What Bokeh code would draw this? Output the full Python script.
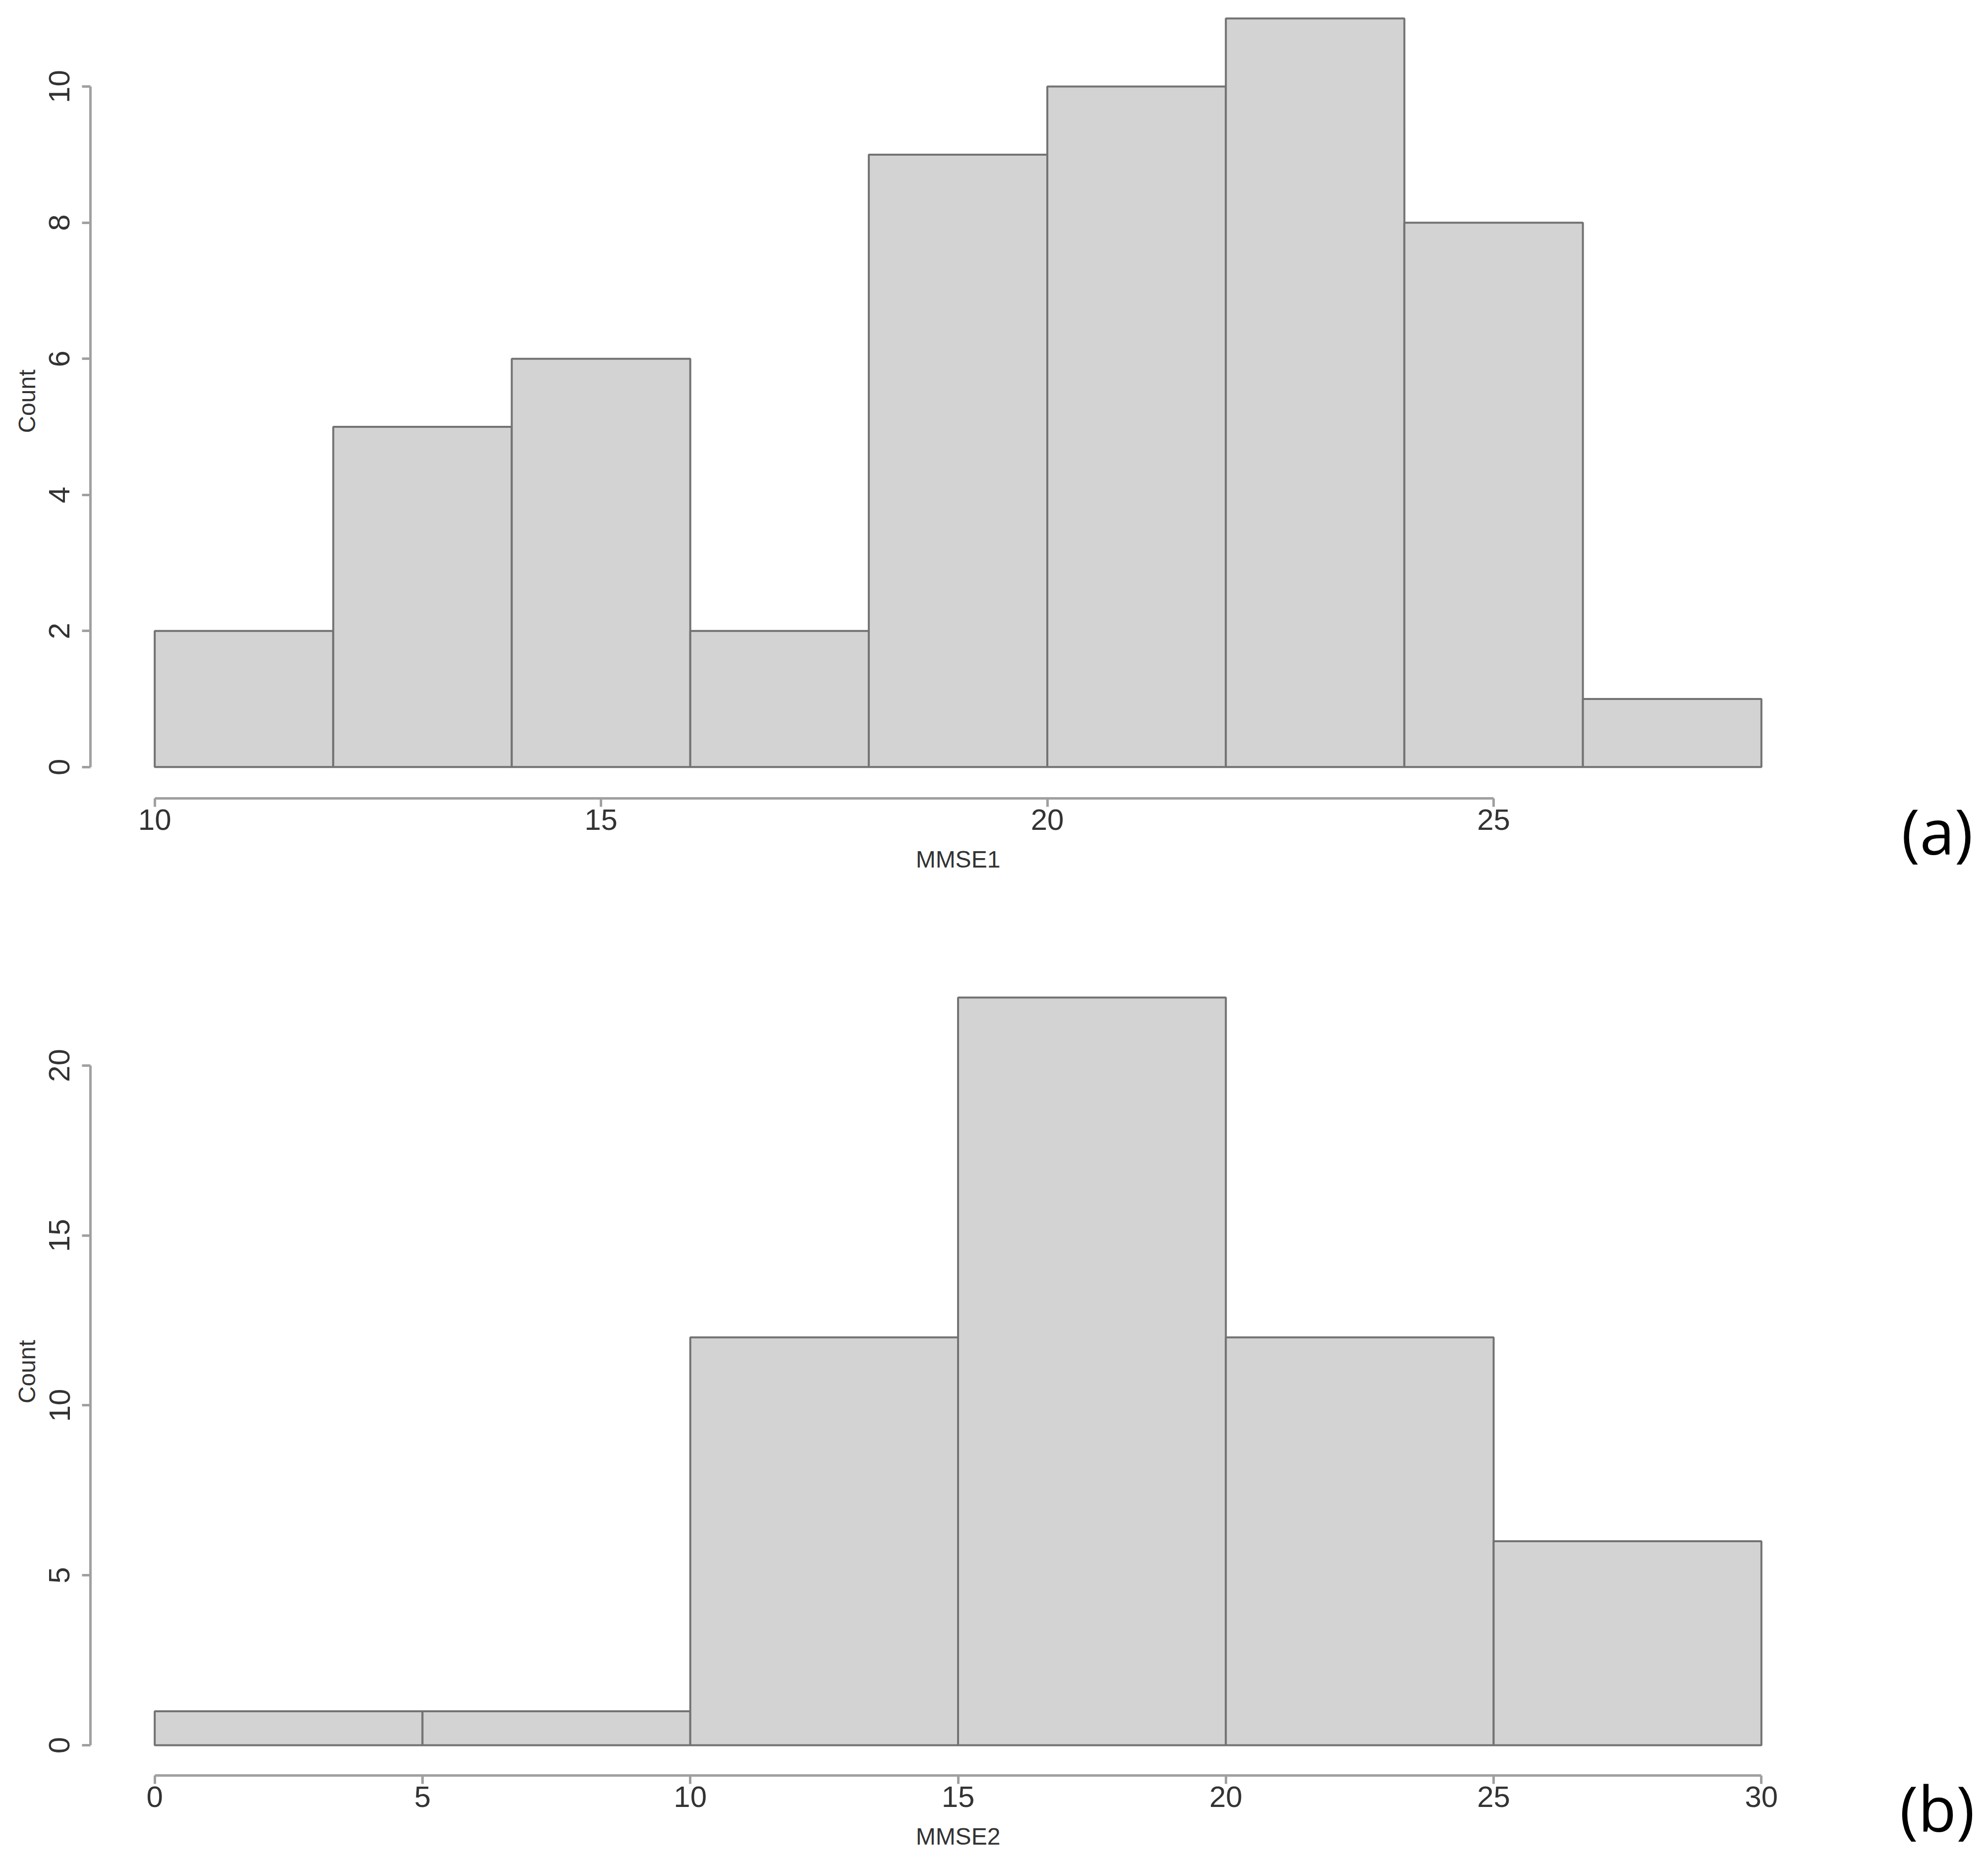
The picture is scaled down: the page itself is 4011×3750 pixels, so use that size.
from bokeh.plotting import figure
from bokeh.models import FixedTicker, Label, Range1d
from bokeh.layouts import column
from bokeh.embed import file_html
from bokeh.resources import INLINE

# ---- data ----
mmse1_edges = [10, 12, 14, 16, 18, 20, 22, 24, 26, 28]
mmse1_counts = [2, 5, 6, 2, 9, 10, 11, 8, 1]
mmse1_xticks = [10, 15, 20, 25]
mmse1_yticks = [0, 2, 4, 6, 8, 10]

mmse2_edges = [0, 5, 10, 15, 20, 25, 30]
mmse2_counts = [1, 1, 12, 22, 12, 6]
mmse2_xticks = [0, 5, 10, 15, 20, 25, 30]
mmse2_yticks = [0, 5, 10, 15, 20]

TICK_FONT = "Liberation Sans"
AXIS_COLOR = "#a0a0a0"
TEXT_COLOR = "#333333"


def make_panel(edges, counts, xticks, yticks, xlab, tag, xr, yr,
               height, border_top, border_bottom):
    p = figure(width=3990, height=height, output_backend="svg", toolbar_location=None,
               x_range=Range1d(*xr), y_range=Range1d(*yr),
               min_border_left=182, min_border_right=307,
               min_border_top=border_top, min_border_bottom=border_bottom)
    p.outline_line_color = None
    p.background_fill_color = "white"
    p.border_fill_color = "white"
    p.xgrid.visible = False
    p.ygrid.visible = False

    p.quad(left=edges[:-1], right=edges[1:], top=counts, bottom=[0] * len(counts),
           fill_color="#d3d3d3", line_color="#737373", line_width=4)

    for ax, ticks in ((p.xaxis[0], xticks), (p.yaxis[0], yticks)):
        ax.ticker = FixedTicker(ticks=ticks)
        ax.bounds = (ticks[0], ticks[-1])
        ax.minor_tick_line_color = None
        ax.major_tick_in = 0
        ax.major_tick_out = 17
        ax.axis_line_color = AXIS_COLOR
        ax.axis_line_width = 5
        ax.major_tick_line_color = AXIS_COLOR
        ax.major_tick_line_width = 5
        ax.major_label_text_font = TICK_FONT
        ax.major_label_text_font_size = "60px"
        ax.major_label_text_color = TEXT_COLOR
        ax.axis_label_text_font = TICK_FONT
        ax.axis_label_text_font_size = "48px"
        ax.axis_label_text_font_style = "normal"
        ax.axis_label_text_color = TEXT_COLOR

    p.xaxis[0].axis_label = xlab
    p.xaxis[0].major_label_standoff = 5
    p.xaxis[0].axis_label_standoff = 30
    p.yaxis[0].axis_label = "Count"
    p.yaxis[0].major_label_orientation = "vertical"
    p.yaxis[0].major_label_standoff = 25
    p.yaxis[0].axis_label_standoff = 16

    # panel tag, placed in the right-hand side panel (outside the clipped frame)
    lab = Label(x=225, y=-64, x_units="screen", y_units="screen", text=tag,
                text_font="Open Sans", text_font_size="126px", text_color="black",
                text_align="center", text_baseline="middle")
    p.add_layout(lab, "right")
    return p


p1 = make_panel(mmse1_edges, mmse1_counts, mmse1_xticks, mmse1_yticks, "MMSE1", "(a)",
                (9.28, 28.72), (-0.46, 11.21), 1840, 8, 230)
p2 = make_panel(mmse2_edges, mmse2_counts, mmse2_xticks, mmse2_yticks, "MMSE2", "(b)",
                (-1.2, 31.2), (-0.89, 22.87), 1900, 112, 159)

layout = column(p1, p2)
open("out.html", "w").write(file_html(layout, INLINE))
